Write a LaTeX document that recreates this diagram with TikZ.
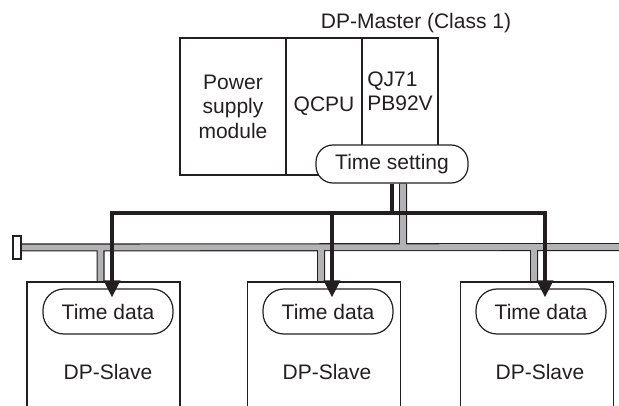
\documentclass[tikz,border=0pt]{standalone}
\usepackage{fontspec}
\setmainfont{Liberation Sans}
\usetikzlibrary{arrows.meta,backgrounds}
\definecolor{inkdark}{RGB}{35,31,32}
\definecolor{pipegray}{RGB}{178,178,180}

% the bus pipe, drawn twice (outline, then fill)
\newcommand{\busroute}{(term.east) -- (busend)
  ([xshift=11pt]settime.south) -- ++(0,64)
  ([xshift=-3pt]slave1.north) -- ++(0,-35)
  ([xshift=-3pt]slave2.north) -- ++(0,-35)
  ([xshift=-3pt]slave3.north) -- ++(0,-35)}

\begin{document}
\begin{tikzpicture}[x=1pt,y=-1pt,>={Triangle[width=16pt,length=17pt]},
  module/.style={draw=inkdark,line width=1.2pt,minimum width=#1,
    minimum height=137pt,inner sep=0pt,align=center},
  pill/.style={draw=inkdark,line width=1.2pt,fill=white,inner sep=0pt,
    rounded corners=17pt},
  slavebox/.style={draw=inkdark,line width=1.2pt,minimum width=153pt,
    minimum height=148pt},
  pipeout/.style={inkdark,line width=8pt},
  pipein/.style={pipegray,line width=5.8pt},
  signal/.style={inkdark,line width=3.5pt},
  every node/.style={font=\fontsize{21}{24.5}\selectfont,text=inkdark}]
  \useasboundingbox (0,0) rectangle (619,406);
  \clip (0,0) rectangle (619,406);

  % DP-Master
  \node (master) at (416,23) {DP-Master (Class 1)};
  \node[module=106pt] (psu) at (233,106.5) {Power\\supply\\module};
  \node[module=76pt] (qcpu) at (324,106.5) {QCPU};
  \node[module=76pt,align=left] (qj71) at (400,106.5) {QJ71\\PB92V\\[6pt]};
  \node[pill,minimum width=152pt,minimum height=38pt] (settime)
    at (392,164) {Time setting};

  % DP-Slaves
  \node[slavebox] (slave1) at (103.5,356) {};
  \node[slavebox] (slave2) at (324,356) {};
  \node[slavebox] (slave3) at (537,356) {};
  \node[pill,minimum width=130pt,minimum height=45pt,rounded corners=21pt]
    (data1) at (108,311.5) {Time data};
  \node[pill,minimum width=130pt,minimum height=45pt,rounded corners=21pt]
    (data2) at (328,311.5) {Time data};
  \node[pill,minimum width=130pt,minimum height=45pt,rounded corners=21pt]
    (data3) at (541,311.5) {Time data};
  \node (name1) at (108,372) {DP-Slave};
  \node (name2) at (327,372) {DP-Slave};
  \node (name3) at (540,372) {DP-Slave};

  % bus
  \node[draw=inkdark,line width=1.2pt,fill=white,inner sep=0pt,
    minimum width=8pt,minimum height=23pt] (term) at (17,247.5) {};
  \coordinate (busend) at (620,247);
  \begin{scope}[on background layer]
    \draw[pipeout] \busroute;
    \draw[pipein] \busroute;
  \end{scope}

  % time distribution
  \coordinate (hub) at (392,213);
  \draw[signal] (settime.south) -- (hub);
  \draw[signal,->] (hub) -| ([xshift=4pt,yshift=-9pt]data1.north);
  \draw[signal,->] (hub) -| ([xshift=4pt,yshift=-9pt]data2.north);
  \draw[signal,->] (hub) -| ([xshift=4pt,yshift=-9pt]data3.north);
\end{tikzpicture}
\end{document}
